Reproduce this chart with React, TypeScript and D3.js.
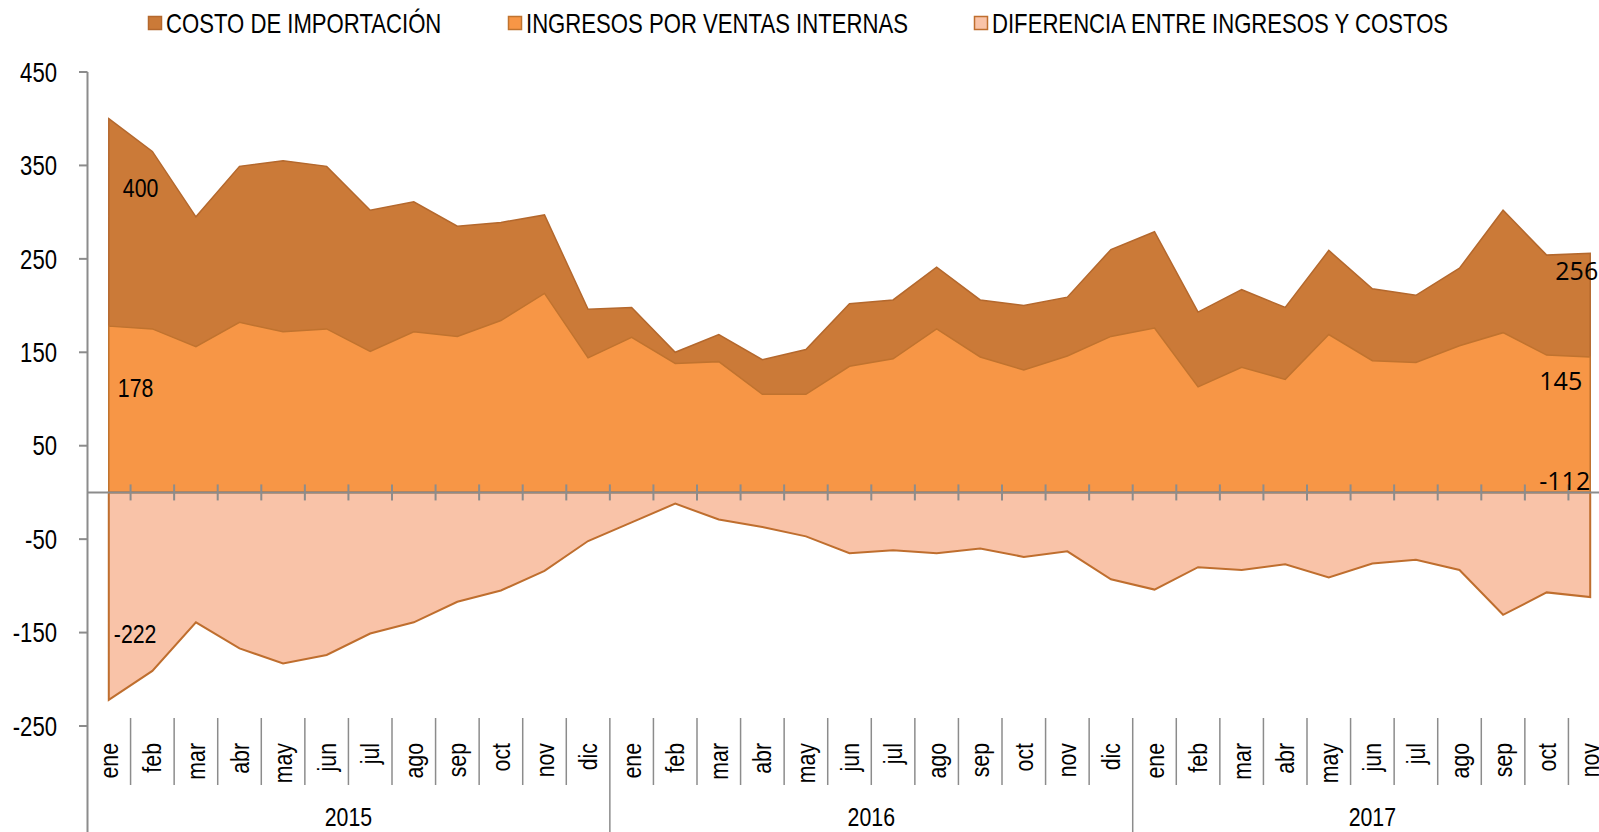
import React from 'react'
import * as d3 from 'd3'

const WIDTH = 1599
const HEIGHT = 832
const NARROW = "'Liberation Sans', Arial, sans-serif"
const LABEL_FONT = "'Open Sans', 'Noto Sans', sans-serif"
const SQUEEZE = 0.82 // no Arial Narrow here, so squeeze Liberation Sans

const monthNames = ['ene', 'feb', 'mar', 'abr', 'may', 'jun', 'jul', 'ago', 'sep', 'oct', 'nov', 'dic']
const years = ['2015', '2016', '2017']
const monthsPerYear = [12, 12, 11]
const yTicks = [450, 350, 250, 150, 50, -50, -150, -250]

const costo = [400, 365, 295, 349, 355, 349, 302, 311, 285, 289, 297, 196,
  198, 150, 169, 142, 153, 202, 206, 241, 206, 200, 209, 260,
  279, 193, 217, 198, 259, 218, 211, 240, 302, 254, 256]
const ingresos = [178, 175, 156, 182, 172, 175, 151, 172, 167, 184, 213, 144,
  166, 138, 140, 105, 105, 135, 143, 175, 145, 131, 146, 167,
  176, 113, 134, 121, 169, 141, 139, 157, 171, 147, 145]
const diferencia = [-222, -191, -139, -167, -183, -174, -151, -139, -117, -105, -84, -52,
  -32, -12, -29, -37, -47, -65, -62, -65, -60, -69, -63, -93,
  -104, -80, -83, -77, -91, -76, -72, -83, -131, -107, -112]

const series = [
  { name: 'COSTO DE IMPORTACIÓN', values: costo, fill: '#CB7A38', stroke: '#B4682D', legendX: 148 },
  { name: 'INGRESOS POR VENTAS INTERNAS', values: ingresos, fill: '#F79646', stroke: '#C0732F', legendX: 508 },
  { name: 'DIFERENCIA ENTRE INGRESOS Y COSTOS', values: diferencia, fill: '#F9C3A8', stroke: '#BF6E2E', legendX: 974 }
]

const categories: { year: string; month: string; key: string }[] = []
years.forEach((yr, i) => {
  for (let m = 0; m < monthsPerYear[i]; m++) {
    categories.push({ year: yr, month: monthNames[m], key: `${yr}-${m}` })
  }
})

// condensed text: anchor stays put, glyphs squeezed horizontally
const NText = ({ x, y, anchor = 'start', rotate = 0, size = 26, dy, children }: any) => (
  <g transform={`translate(${x},${y}) rotate(${rotate}) scale(${SQUEEZE},1)`}>
    <text textAnchor={anchor} dy={dy} fontFamily={NARROW} fontSize={size} fill="#000">{children}</text>
  </g>
)

export default function App() {
  const x = d3.scaleBand().domain(categories.map(c => c.key)).range([87, 1612])
  const y = d3.scaleLinear().domain([-250, 450]).range([726, 72])
  const cx = (i: number) => (x(categories[i].key) as number) + x.bandwidth() / 2
  const y0 = y(0)

  const area = d3.area<number>()
    .x((d, i) => cx(i))
    .y0(y0)
    .y1(d => y(d))

  const last = categories.length - 1
  const boundaries = d3.range(1, categories.length + 1).map(i => 87 + i * x.bandwidth())
  const yearStarts: number[] = []
  let acc = 0
  monthsPerYear.forEach(n => { acc += n; yearStarts.push(acc) })

  return (
    <svg width={WIDTH} height={HEIGHT} style={{ position: 'absolute', left: 0, top: 0, background: '#fff' }}>
      {/* legend */}
      {series.map(s => (
        <g key={s.name}>
          <rect x={s.legendX + 0.5} y={16.5} width={13} height={13} fill={s.fill} stroke={s.stroke} strokeWidth={1.5} />
          <NText x={s.legendX + 18} y={33} size={27}>{s.name}</NText>
        </g>
      ))}

      {/* areas */}
      {series.map(s => (
        <path key={s.name} d={area(s.values) + 'Z'} fill={s.fill} stroke={s.stroke} strokeWidth={s.values === diferencia ? 2 : 1.5} />
      ))}

      {/* y axis */}
      <line x1={87.5} x2={87.5} y1={y(450)} y2={HEIGHT} stroke="#8C8C8C" strokeWidth={2} />
      {yTicks.map(t => (
        <g key={t}>
          <line x1={79} x2={87.5} y1={y(t)} y2={y(t)} stroke="#8C8C8C" strokeWidth={2} />
          <NText x={57} y={y(t)} dy="0.36em" anchor="end" size={27}>{t}</NText>
        </g>
      ))}

      {/* x axis at zero */}
      <line x1={87} x2={WIDTH} y1={y0} y2={y0} stroke="#8C8C8C" strokeWidth={2} />
      {boundaries.map((bx, i) => (
        <line key={'t' + i} x1={bx} x2={bx} y1={y0 - 8} y2={y0 + 8} stroke="#8C8C8C" strokeWidth={2} />
      ))}

      {/* category axis */}
      {boundaries.map((bx, i) => {
        const isYear = yearStarts.includes(i + 1)
        return <line key={'s' + i} x1={bx} x2={bx} y1={718} y2={isYear ? HEIGHT : 785} stroke="#8C8C8C" strokeWidth={1.5} />
      })}
      {categories.map((c, i) => (
        <NText key={c.key} x={cx(i) + 9} y={743} rotate={-90} anchor="end">{c.month}</NText>
      ))}
      {years.map((yr, i) => {
        const start = i === 0 ? 0 : yearStarts[i - 1]
        const mid = 87 + (start + monthsPerYear[i] / 2) * x.bandwidth()
        return <NText key={yr} x={mid} y={826} anchor="middle" size={26}>{yr}</NText>
      })}

      {/* data labels */}
      <NText x={cx(0) + 14} y={197}>{costo[0]}</NText>
      <NText x={cx(0) + 9} y={397}>{ingresos[0]}</NText>
      <NText x={cx(0) + 5} y={643}>{diferencia[0]}</NText>
      <text x={cx(last) + 8} y={280} textAnchor="end" fontFamily={LABEL_FONT} fontSize={25} fill="#000">{costo[last]}</text>
      <text x={cx(last) - 8} y={390} textAnchor="end" fontFamily={LABEL_FONT} fontSize={25} fill="#000">{ingresos[last]}</text>
      <text x={cx(last)} y={490} textAnchor="end" fontFamily={LABEL_FONT} fontSize={25} fill="#000">{diferencia[last]}</text>
    </svg>
  )
}
